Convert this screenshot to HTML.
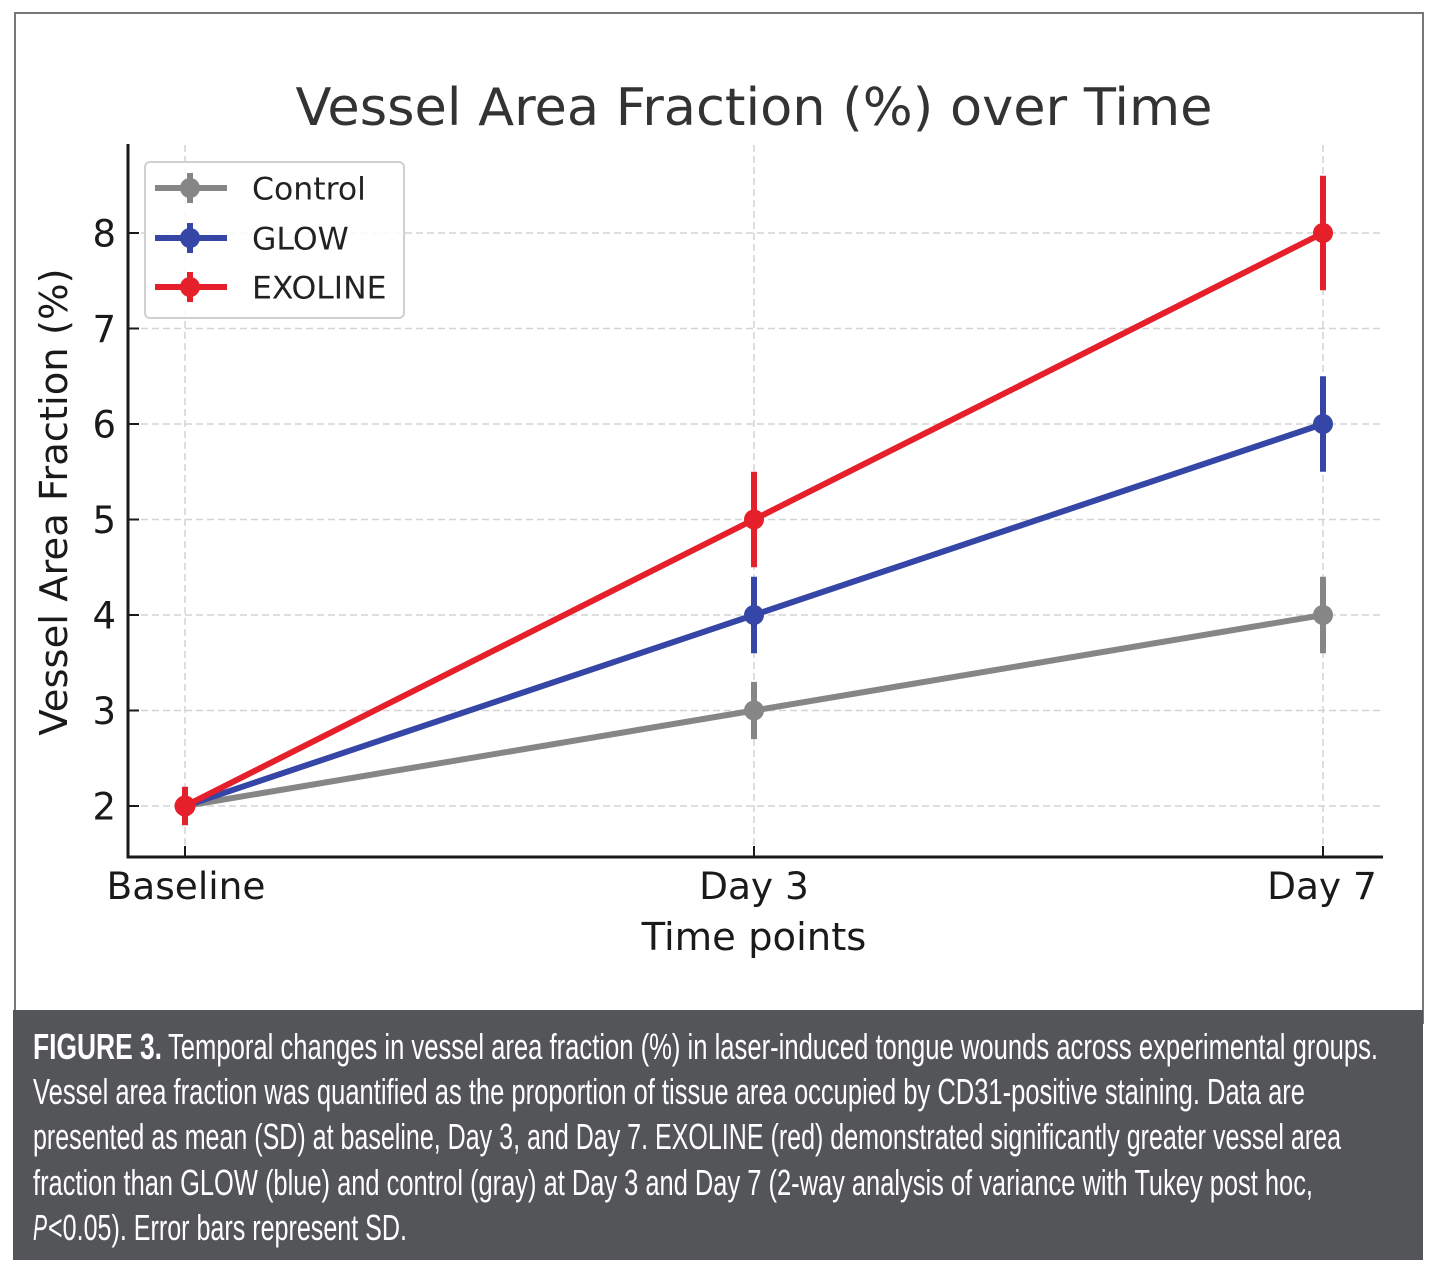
<!DOCTYPE html>
<html>
<head>
<meta charset="utf-8">
<style>
html,body{margin:0;padding:0;background:#fff;}
svg{display:block;}
</style>
</head>
<body>
<svg width="1442" height="1280" viewBox="0 0 1442 1280" xmlns="http://www.w3.org/2000/svg">
  <rect x="0" y="0" width="1442" height="1280" fill="#ffffff"/>
  <!-- outer frame -->
  <rect x="15" y="13" width="1408" height="1010" fill="#ffffff" stroke="#777777" stroke-width="2"/>

  <!-- title -->
  <text x="754" y="125" text-anchor="middle" font-family="DejaVu Sans, Liberation Sans, sans-serif" font-size="52" fill="#333333" textLength="917" lengthAdjust="spacingAndGlyphs">Vessel Area Fraction (%) over Time</text>

  <!-- grid -->
  <g stroke="#d4d4d4" stroke-width="1.5" stroke-dasharray="7 4" fill="none">
    <line x1="130" y1="806" x2="1383" y2="806"/>
    <line x1="130" y1="710.5" x2="1383" y2="710.5"/>
    <line x1="130" y1="615" x2="1383" y2="615"/>
    <line x1="130" y1="519.5" x2="1383" y2="519.5"/>
    <line x1="130" y1="424" x2="1383" y2="424"/>
    <line x1="130" y1="328.5" x2="1383" y2="328.5"/>
    <line x1="130" y1="233" x2="1383" y2="233"/>
    <line x1="185" y1="145" x2="185" y2="856"/>
    <line x1="754" y1="145" x2="754" y2="856"/>
    <line x1="1323" y1="145" x2="1323" y2="856"/>
  </g>

  <!-- spines -->
  <line x1="128" y1="144" x2="128" y2="858.5" stroke="#1a1a1a" stroke-width="3"/>
  <line x1="126.5" y1="857" x2="1383" y2="857" stroke="#1a1a1a" stroke-width="3"/>

  <!-- ticks (inward) -->
  <g stroke="#1a1a1a" stroke-width="2">
    <line x1="128" y1="806" x2="139" y2="806"/>
    <line x1="128" y1="710.5" x2="139" y2="710.5"/>
    <line x1="128" y1="615" x2="139" y2="615"/>
    <line x1="128" y1="519.5" x2="139" y2="519.5"/>
    <line x1="128" y1="424" x2="139" y2="424"/>
    <line x1="128" y1="328.5" x2="139" y2="328.5"/>
    <line x1="128" y1="233" x2="139" y2="233"/>
    <line x1="185" y1="857" x2="185" y2="846"/>
    <line x1="754" y1="857" x2="754" y2="846"/>
    <line x1="1323" y1="857" x2="1323" y2="846"/>
  </g>

  <!-- y tick labels -->
  <g font-family="DejaVu Sans, Liberation Sans, sans-serif" font-size="37" fill="#1a1a1a" text-anchor="end">
    <text x="116" y="819.5">2</text>
    <text x="116" y="724">3</text>
    <text x="116" y="628.5">4</text>
    <text x="116" y="533">5</text>
    <text x="116" y="437.5">6</text>
    <text x="116" y="342">7</text>
    <text x="116" y="246.5">8</text>
  </g>

  <!-- x tick labels -->
  <g font-family="DejaVu Sans, Liberation Sans, sans-serif" font-size="37.5" fill="#1a1a1a" text-anchor="middle">
    <text x="186" y="899">Baseline</text>
    <text x="754" y="899">Day 3</text>
    <text x="1322" y="899">Day 7</text>
  </g>

  <!-- axis labels -->
  <text x="754" y="950" text-anchor="middle" font-family="DejaVu Sans, Liberation Sans, sans-serif" font-size="38.5" fill="#1a1a1a">Time points</text>
  <text transform="translate(67,502) rotate(-90)" x="0" y="0" text-anchor="middle" font-family="DejaVu Sans, Liberation Sans, sans-serif" font-size="38.5" fill="#1a1a1a">Vessel Area Fraction (%)</text>

  <!-- Control (gray) -->
  <g stroke="#868686" fill="#868686">
    <polyline points="185,806 754,710.5 1323,615" fill="none" stroke-width="6" stroke-linejoin="round"/>
    <line x1="185" y1="786.9" x2="185" y2="825.1" stroke-width="6"/>
    <line x1="754" y1="681.85" x2="754" y2="739.15" stroke-width="6"/>
    <line x1="1323" y1="576.8" x2="1323" y2="653.2" stroke-width="6"/>
    <circle cx="185" cy="806" r="10" stroke="none"/>
    <circle cx="754" cy="710.5" r="10" stroke="none"/>
    <circle cx="1323" cy="615" r="10" stroke="none"/>
  </g>

  <!-- GLOW (blue) -->
  <g stroke="#3546a6" fill="#3546a6">
    <polyline points="185,806 754,615 1323,424" fill="none" stroke-width="6" stroke-linejoin="round"/>
    <line x1="185" y1="786.9" x2="185" y2="825.1" stroke-width="6"/>
    <line x1="754" y1="576.8" x2="754" y2="653.2" stroke-width="6"/>
    <line x1="1323" y1="376.25" x2="1323" y2="471.75" stroke-width="6"/>
    <circle cx="185" cy="806" r="10" stroke="none"/>
    <circle cx="754" cy="615" r="10" stroke="none"/>
    <circle cx="1323" cy="424" r="10" stroke="none"/>
  </g>

  <!-- EXOLINE (red) -->
  <g stroke="#e5202a" fill="#e5202a">
    <polyline points="185,806 754,519.5 1323,233" fill="none" stroke-width="6" stroke-linejoin="round"/>
    <line x1="185" y1="786.9" x2="185" y2="825.1" stroke-width="6"/>
    <line x1="754" y1="471.75" x2="754" y2="567.25" stroke-width="6"/>
    <line x1="1323" y1="175.7" x2="1323" y2="290.3" stroke-width="6"/>
    <circle cx="185" cy="806" r="10.5" stroke="none"/>
    <circle cx="754" cy="519.5" r="10" stroke="none"/>
    <circle cx="1323" cy="233" r="10" stroke="none"/>
  </g>

  <!-- legend -->
  <rect x="145" y="162" width="259" height="156" rx="5" ry="5" fill="#ffffff" fill-opacity="0.85" stroke="#d0d0d0" stroke-width="2"/>
  <g stroke="#868686" fill="#868686">
    <line x1="155" y1="188" x2="227" y2="188" stroke-width="6"/>
    <line x1="190" y1="173" x2="190" y2="203" stroke-width="6"/>
    <circle cx="190" cy="188" r="10" stroke="none"/>
  </g>
  <g stroke="#3546a6" fill="#3546a6">
    <line x1="155" y1="238" x2="227" y2="238" stroke-width="6"/>
    <line x1="190" y1="223" x2="190" y2="253" stroke-width="6"/>
    <circle cx="190" cy="238" r="10" stroke="none"/>
  </g>
  <g stroke="#e5202a" fill="#e5202a">
    <line x1="155" y1="287" x2="227" y2="287" stroke-width="6"/>
    <line x1="190" y1="272" x2="190" y2="302" stroke-width="6"/>
    <circle cx="190" cy="287" r="10" stroke="none"/>
  </g>
  <g font-family="DejaVu Sans, Liberation Sans, sans-serif" font-size="31.5" fill="#222222">
    <text x="252" y="199.5">Control</text>
    <text x="252" y="249.5">GLOW</text>
    <text x="252" y="298.5">EXOLINE</text>
  </g>

  <!-- caption -->
  <rect x="13" y="1010" width="1410" height="250" fill="#545559"/>
  <g font-family="Liberation Sans, Arial, sans-serif" font-size="36" fill="#ffffff">
    <text x="33" y="1059" font-weight="bold" textLength="129" lengthAdjust="spacingAndGlyphs">FIGURE 3.</text>
    <text x="168" y="1059" textLength="1210" lengthAdjust="spacingAndGlyphs">Temporal changes in vessel area fraction (%) in laser-induced tongue wounds across experimental groups.</text>
    <text x="33" y="1104" textLength="1272" lengthAdjust="spacingAndGlyphs">Vessel area fraction was quantified as the proportion of tissue area occupied by CD31-positive staining. Data are</text>
    <text x="33" y="1149" textLength="1308" lengthAdjust="spacingAndGlyphs">presented as mean (SD) at baseline, Day 3, and Day 7. EXOLINE (red) demonstrated significantly greater vessel area</text>
    <text x="33" y="1195" textLength="1280" lengthAdjust="spacingAndGlyphs">fraction than GLOW (blue) and control (gray) at Day 3 and Day 7 (2-way analysis of variance with Tukey post hoc,</text>
    <text x="33" y="1240" font-style="italic" textLength="14" lengthAdjust="spacingAndGlyphs">P</text>
    <text x="48" y="1240" textLength="359" lengthAdjust="spacingAndGlyphs">&lt;0.05). Error bars represent SD.</text>
  </g>
</svg>
</body>
</html>
